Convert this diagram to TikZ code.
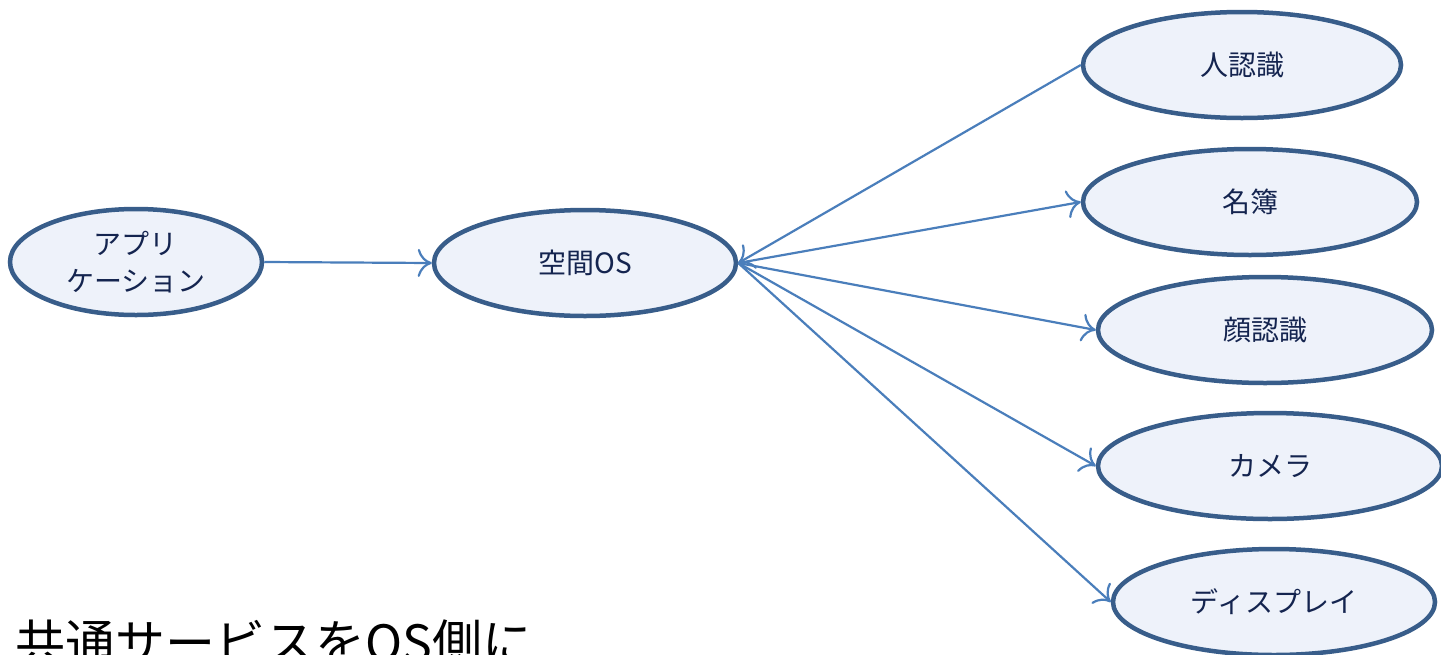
\documentclass[tikz,border=0pt]{standalone}
\usepackage{fontspec}
\setmainfont{Noto Sans CJK JP}
\usetikzlibrary{shapes.geometric,arrows.meta}
\definecolor{edgeblue}{HTML}{385D8A}
\definecolor{fillblue}{HTML}{EEF2FA}
\definecolor{lineblue}{HTML}{4A7EBB}
\definecolor{txtblue}{HTML}{14244F}
\tikzset{
  oval/.style={ellipse, draw=edgeblue, fill=fillblue, line width=4.5pt, inner sep=0pt,
    text=txtblue, font=\fontsize{28}{37}\selectfont, align=center},
  conn/.style={draw=lineblue, line width=2.2pt, -{To[length=14pt,width=28pt,line width=2.2pt]}},
}
\begin{document}
\begin{tikzpicture}[x=1pt,y=-1pt]
\clip (0,0) rectangle (1441,654);
\fill[white] (0,0) rectangle (1441,654);
\node[oval, minimum width=252pt, minimum height=106pt] (app) at (136,262) {アプリ\\ケーション};
\node[oval, minimum width=302pt, minimum height=106pt] (os) at (585,263) {空間OS};
\node[oval, minimum width=318pt, minimum height=106pt] (hito) at (1242,65) {人認識};
\node[oval, minimum width=334pt, minimum height=106pt] (meibo) at (1250,202) {名簿};
\node[oval, minimum width=334pt, minimum height=106pt] (kao) at (1265,330) {顔認識};
\node[oval, minimum width=344pt, minimum height=106pt] (cam) at (1270,466) {カメラ};
\node[oval, minimum width=322pt, minimum height=106pt] (disp) at (1274,602) {ディスプレイ};
\draw[conn] (app.east) -- (os.west);
\draw[conn] (hito.west) -- (os.east);
\draw[conn] (os.east) -- (meibo.west);
\draw[conn] (os.east) -- (kao.west);
\draw[conn] (os.east) -- (cam.west);
\draw[conn] (os.east) -- (disp.west);
\node[anchor=base west, inner sep=0pt, font=\fontsize{50}{56}\selectfont] (caption) at (15,661) {共通サービスをOS側に};
\end{tikzpicture}
\end{document}
